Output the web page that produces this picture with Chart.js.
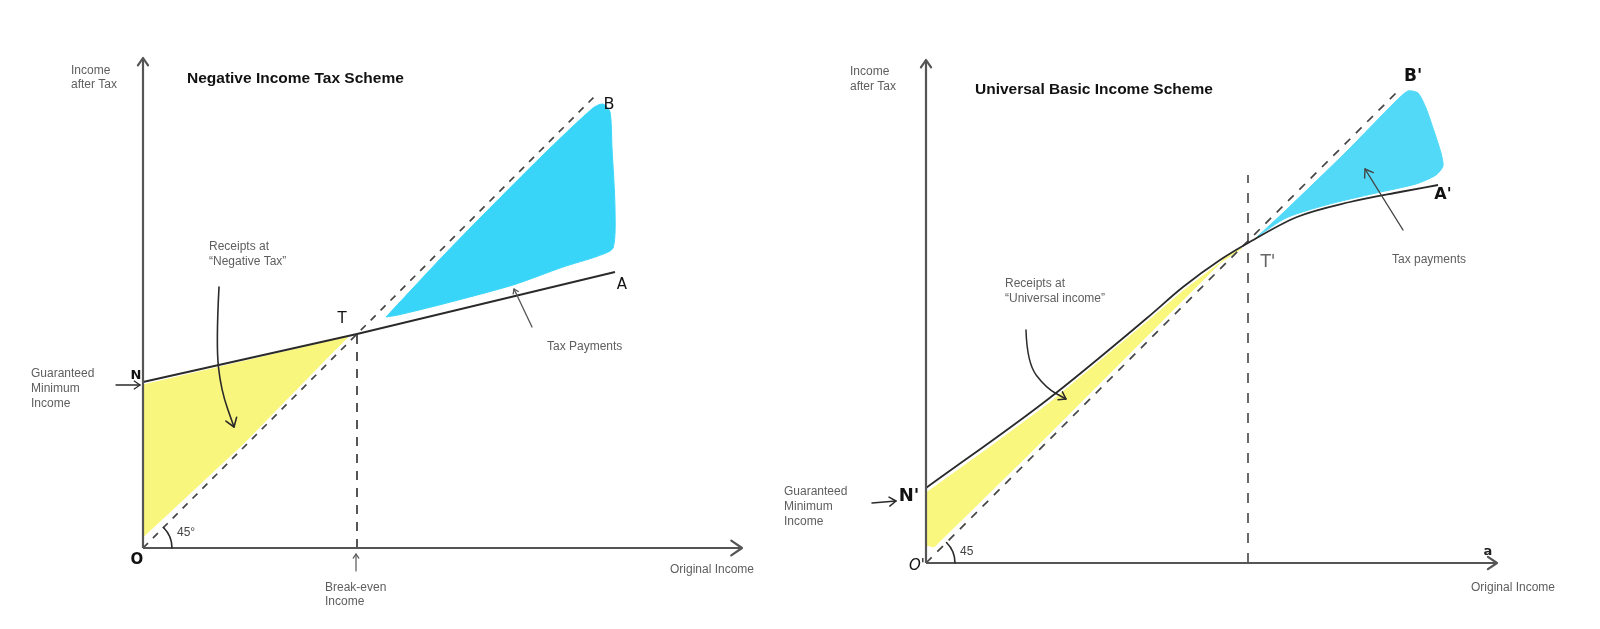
<!DOCTYPE html>
<html>
<head>
<meta charset="utf-8">
<title>Negative Income Tax vs Universal Basic Income</title>
<script src="https://cdn.jsdelivr.net/npm/chart.js@4.4.0/dist/chart.umd.min.js"></script>
<style>
  html, body { margin: 0; padding: 0; background: #fff; }
  #wrap { position: relative; width: 1600px; height: 629px; overflow: hidden; }
  canvas { position: absolute; top: 0; }
</style>
</head>
<body>
<div id="wrap">
  <canvas id="nit" width="800" height="629" style="left:0"></canvas>
  <canvas id="ubi" width="840" height="629" style="left:760px"></canvas>
</div>
<script>
// --- Negative income tax panel (values in drawing units, origin O) ---
const nitXAxis = [[0, 0], [599, 0]];
const nitYAxis = [[0, 0], [0, 490]];
const nitIncomeLine = [[0, 166], [214, 214], [472, 276]];      // N - T - A
const nitFortyFive = [[0, 0], [455, 455]];                     // O - B
const nitBreakEven = [[214, 0], [214, 214]];
const nitReceipts = [[0, 163], [205, 211], [190, 196], [100, 104], [0, 11], [0, 163]];
const nitTaxPaid = [[243, 231], [300, 292], [340, 333], [400, 393], [450, 440], [460, 444],
  [467, 436], [469, 400], [472, 340], [470, 300], [455, 292], [420, 281], [370, 263],
  [300, 244], [255, 233], [243, 231]];

// --- Universal basic income panel (origin O') ---
const ubiXAxis = [[0, 0], [571, 0]];
const ubiYAxis = [[0, 0], [0, 503]];
const ubiIncomeLine = [[0, 75], [121, 163], [221, 245], [257, 276], [294, 303], [322, 320],
  [371, 346], [424, 361], [474, 371], [512, 378]];              // N' - T' - A'
const ubiFortyFive = [[0, 0], [472, 472]];                     // O' - B'
const ubiBreakEven = [[322, 0], [322, 388]];
const ubiReceipts = [[0, 70], [60, 113], [121, 158], [221, 241], [257, 272], [294, 300],
  [316, 315], [300, 306], [200, 206], [100, 106], [8, 16], [0, 18], [0, 70]];
const ubiTaxPaid = [[331, 326], [360, 353], [420, 411], [470, 462], [482, 472], [492, 470],
  [500, 455], [508, 432], [515, 410], [517, 397], [510, 388], [490, 379], [450, 370],
  [400, 358], [360, 345], [331, 326]];

const pts = arr => arr.map(p => ({ x: p[0], y: p[1] }));

const INK = '#2a2a2a';
const AXIS = '#555';
const LABEL = '#5e5e5e';
const TXT = '12px "Liberation Sans", Arial, sans-serif';
const HAND = '"DejaVu Sans", sans-serif';

function lineSet(arr, extra) {
  return Object.assign({
    data: pts(arr), borderColor: INK, borderWidth: 1.8, pointRadius: 0,
    fill: false, tension: 0, clip: false, order: 1
  }, extra);
}
function areaSet(arr, color, tension) {
  return {
    data: pts(arr), borderColor: color, borderWidth: 1, backgroundColor: color,
    pointRadius: 0, fill: 'shape', tension: tension, clip: false, order: 5
  };
}

// Draws arrow heads, hand arrows, angle arcs and text labels in data units
const sketchNotes = {
  id: 'sketchNotes',
  afterDatasetsDraw(chart, args, opts) {
    const { ctx } = chart;
    const xs = chart.scales.x, ys = chart.scales.y;
    const px = v => xs.getPixelForValue(v);
    const py = v => ys.getPixelForValue(v);
    ctx.save();
    ctx.lineCap = 'round';
    ctx.lineJoin = 'round';

    const head = (x0, y0, x1, y1, len, ang, color, w) => {
      const a = Math.atan2(y1 - y0, x1 - x0);
      ctx.strokeStyle = color;
      ctx.lineWidth = w;
      ctx.beginPath();
      ctx.moveTo(x1 - len * Math.cos(a - ang), y1 - len * Math.sin(a - ang));
      ctx.lineTo(x1, y1);
      ctx.lineTo(x1 - len * Math.cos(a + ang), y1 - len * Math.sin(a + ang));
      ctx.stroke();
    };

    // axis arrow heads taken from the drawn dataset points
    chart.data.datasets.forEach((ds, i) => {
      if (!ds.arrowEnd) return;
      const el = chart.getDatasetMeta(i).data;
      const a = el[el.length - 2], b = el[el.length - 1];
      head(a.x, a.y, b.x, b.y, ds.arrowEnd, 0.6, ds.borderColor, ds.borderWidth);
    });

    (opts.arrows || []).forEach(ar => {
      const p = ar.pts.map(q => [px(q[0]), py(q[1])]);
      ctx.strokeStyle = ar.color || INK;
      ctx.lineWidth = ar.width || 1.5;
      ctx.beginPath();
      ctx.moveTo(p[0][0], p[0][1]);
      for (let i = 1; i < p.length - 1; i++) {
        const mx = (p[i][0] + p[i + 1][0]) / 2, my = (p[i][1] + p[i + 1][1]) / 2;
        ctx.quadraticCurveTo(p[i][0], p[i][1], mx, my);
      }
      ctx.lineTo(p[p.length - 1][0], p[p.length - 1][1]);
      ctx.stroke();
      const n = p.length;
      head(p[n - 2][0], p[n - 2][1], p[n - 1][0], p[n - 1][1], ar.head || 8, 0.6,
        ar.color || INK, ar.width || 1.5);
    });

    (opts.arcs || []).forEach(ac => {
      ctx.strokeStyle = INK;
      ctx.lineWidth = 1.6;
      ctx.beginPath();
      ctx.arc(px(ac.x), py(ac.y), ac.r, -Math.PI / 4, 0);
      ctx.stroke();
    });

    (opts.texts || []).forEach(t => {
      ctx.font = t.font || TXT;
      ctx.fillStyle = t.color || LABEL;
      ctx.textAlign = t.align || 'left';
      ctx.textBaseline = 'middle';
      ctx.fillText(t.t, px(t.x), py(t.y));
    });
    ctx.restore();
  }
};

function makeChart(id, datasets, xmax, ymax, padding, notes) {
  return new Chart(document.getElementById(id), {
    type: 'line',
    data: { datasets: datasets },
    options: {
      responsive: false,
      animation: false,
      layout: { padding: padding },
      scales: {
        x: { type: 'linear', min: 0, max: xmax, display: false },
        y: { type: 'linear', min: 0, max: ymax, display: false }
      },
      plugins: { legend: { display: false }, tooltip: { enabled: false }, sketchNotes: notes }
    },
    plugins: [sketchNotes]
  });
}

makeChart('nit', [
  lineSet(nitXAxis, { borderColor: AXIS, borderWidth: 2.2, arrowEnd: 13 }),
  lineSet(nitYAxis, { borderColor: AXIS, borderWidth: 2.2, arrowEnd: 9 }),
  lineSet(nitIncomeLine),
  lineSet(nitFortyFive, { borderColor: '#444', borderWidth: 1.7, borderDash: [7, 7] }),
  lineSet(nitBreakEven, { borderColor: '#444', borderWidth: 1.8, borderDash: [9, 8] }),
  areaSet(nitReceipts, '#f8f67c', 0),
  areaSet(nitTaxPaid, '#39d5f9', 0.25)
], 600, 490, { left: 143, right: 57, top: 58, bottom: 81 }, {
  arrows: [
    { pts: [[76, 261], [73, 203], [78, 158], [91, 121]], head: 10, width: 1.6 },
    { pts: [[-27, 163], [-3, 163]], head: 7, width: 1.3 },
    { pts: [[389, 221], [371, 259]], head: 5, width: 1.3, color: '#555' },
    { pts: [[213, -23], [213, -6]], head: 5, width: 1.2, color: '#555' }
  ],
  arcs: [{ x: 0, y: 0, r: 29 }],
  texts: [
    { t: 'Income', x: -72, y: 477 },
    { t: 'after Tax', x: -72, y: 463 },
    { t: 'Negative Income Tax Scheme', x: 44, y: 469, color: '#111',
      font: 'bold 15.5px "Liberation Sans", Arial, sans-serif' },
    { t: 'Receipts at', x: 66, y: 301 },
    { t: '\u201CNegative Tax\u201D', x: 66, y: 286 },
    { t: 'Guaranteed', x: -112, y: 174 },
    { t: 'Minimum', x: -112, y: 159 },
    { t: 'Income', x: -112, y: 144 },
    { t: 'Tax Payments', x: 404, y: 201 },
    { t: 'Break-even', x: 182, y: -40 },
    { t: 'Income', x: 182, y: -54 },
    { t: 'Original Income', x: 527, y: -22 },
    { t: '45\u00B0', x: 34, y: 15, font: '12px "Liberation Sans", Arial, sans-serif', color: '#444' },
    { t: 'N', x: -7, y: 172, align: 'center', color: '#111', font: 'bold 13px ' + HAND },
    { t: 'O', x: -6, y: -12, align: 'center', color: '#111', font: 'bold 15px ' + HAND },
    { t: 'T', x: 199, y: 229, align: 'center', color: '#111', font: '15px ' + HAND },
    { t: 'B', x: 466, y: 443, align: 'center', color: '#111', font: '16px ' + HAND },
    { t: 'A', x: 479, y: 263, align: 'center', color: '#111', font: '15px ' + HAND }
  ]
});

const ubiCurve = lineSet(ubiIncomeLine, { cubicInterpolationMode: 'monotone' });

makeChart('ubi', [
  lineSet(ubiXAxis, { borderColor: AXIS, borderWidth: 2.2, arrowEnd: 11 }),
  lineSet(ubiYAxis, { borderColor: AXIS, borderWidth: 2.2, arrowEnd: 9 }),
  ubiCurve,
  lineSet(ubiFortyFive, { borderColor: '#444', borderWidth: 1.7, borderDash: [8, 8] }),
  lineSet(ubiBreakEven, { borderColor: '#444', borderWidth: 1.6, borderDash: [10, 10] }),
  areaSet(ubiReceipts, '#f9f77e', 0),
  areaSet(ubiTaxPaid, '#52d9f8', 0.25)
], 571, 503, { left: 166, right: 103, top: 60, bottom: 66 }, {
  arrows: [
    { pts: [[100, 233], [101, 200], [120, 175], [140, 164]], head: 8, width: 1.5 },
    { pts: [[-54, 60], [-30, 62]], head: 8, width: 1.5 },
    { pts: [[477, 333], [439, 394]], head: 9, width: 1.4, color: '#444' }
  ],
  arcs: [{ x: 0, y: 0, r: 29 }],
  texts: [
    { t: 'Income', x: -76, y: 491 },
    { t: 'after Tax', x: -76, y: 476 },
    { t: 'Universal Basic Income Scheme', x: 49, y: 473, color: '#111',
      font: 'bold 15.5px "Liberation Sans", Arial, sans-serif' },
    { t: 'Receipts at', x: 79, y: 279 },
    { t: '\u201CUniversal income\u201D', x: 79, y: 264 },
    { t: 'Guaranteed', x: -142, y: 71 },
    { t: 'Minimum', x: -142, y: 56 },
    { t: 'Income', x: -142, y: 41 },
    { t: 'Tax payments', x: 466, y: 303 },
    { t: 'Original Income', x: 545, y: -25 },
    { t: '45', x: 34, y: 11, color: '#444' },
    { t: "N'", x: -17, y: 67, align: 'center', color: '#111', font: 'bold 18px ' + HAND },
    { t: "O'", x: -9, y: -3, align: 'center', color: '#111', font: 'italic 15px ' + HAND },
    { t: "T'", x: 342, y: 300, align: 'center', color: '#666', font: '17px ' + HAND },
    { t: "B'", x: 487, y: 486, align: 'center', color: '#111', font: 'bold 17px ' + HAND },
    { t: "A'", x: 517, y: 368, align: 'center', color: '#111', font: 'bold 16px ' + HAND },
    { t: 'a', x: 562, y: 11, align: 'center', color: '#222', font: 'bold 13px ' + HAND }
  ]
});
</script>
</body>
</html>
